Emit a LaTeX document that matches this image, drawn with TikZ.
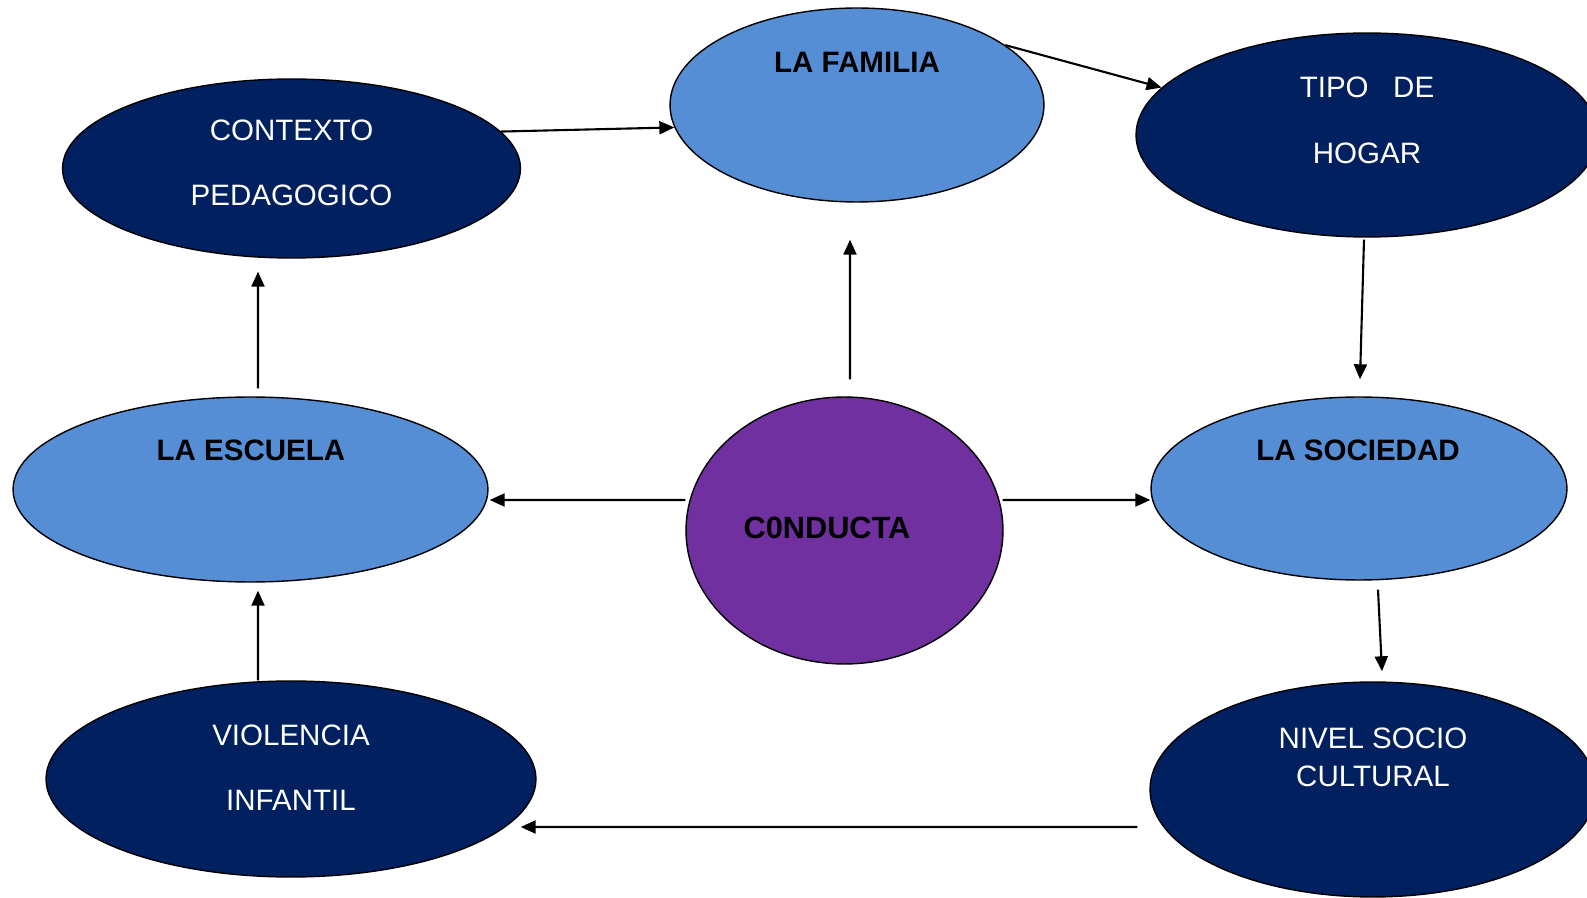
\documentclass[tikz,border=0pt]{standalone}
\usepackage{fontspec}
\setmainfont{Liberation Sans}
\usetikzlibrary{shapes.geometric,arrows.meta}
\definecolor{ovalBlue}{RGB}{85,142,213}
\definecolor{ovalNavy}{RGB}{0,32,96}
\definecolor{ovalPurple}{RGB}{112,48,160}

\begin{document}
\begin{tikzpicture}[x=0.02cm,y=-0.02cm,
  oval/.style={ellipse,draw=black,line width=0.8pt,inner sep=0pt},
  lightoval/.style={oval,fill=ovalBlue},
  darkoval/.style={oval,fill=ovalNavy},
  darktxt/.style={text=white,font=\fontsize{16.8}{#1}\selectfont,align=center},
  boldtxt/.style={font=\fontsize{16.8}{19}\selectfont\bfseries},
  arr/.style={line width=1.2pt,-{Triangle[length=0.3cm,width=0.26cm]}}]
\useasboundingbox (0,0) rectangle (1587,898);

% Ovals
\node[darkoval,minimum width=9.16cm,minimum height=3.58cm] (contexto) at (291.5,168.5) {};
\node[lightoval,minimum width=7.48cm,minimum height=3.88cm] (familia) at (857,105) {};
\node[darkoval,minimum width=9.24cm,minimum height=4.08cm] (tipo) at (1367,135) {};
\node[lightoval,minimum width=9.5cm,minimum height=3.7cm] (escuela) at (250.5,489.5) {};
\node[oval,fill=ovalPurple,minimum width=6.34cm,minimum height=5.34cm] (conducta) at (844.5,530.5) {};
\node[lightoval,minimum width=8.32cm,minimum height=3.66cm] (sociedad) at (1359,488.5) {};
\node[darkoval,minimum width=9.8cm,minimum height=3.92cm] (violencia) at (291,779) {};
\node[darkoval,minimum width=8.92cm,minimum height=4.3cm] (nivel) at (1373,789.5) {};

% Labels
\node[darktxt=36.6pt] (contexto-lbl) at (291.5,162.8) {CONTEXTO\\PEDAGOGICO};
\node[boldtxt] (familia-lbl) at (857,62) {LA FAMILIA};
\node[darktxt=37.4pt] (tipo-lbl) at (1367,120) {TIPO~~~DE\\HOGAR};
\node[boldtxt] (escuela-lbl) at (251,450) {LA ESCUELA};
\node[boldtxt,font=\fontsize{17.5}{19}\selectfont\bfseries] (conducta-lbl) at (827,527.5) {C0NDUCTA};
\node[boldtxt] (sociedad-lbl) at (1358,450) {LA SOCIEDAD};
\node[darktxt=36.8pt] (violencia-lbl) at (291,767.5) {VIOLENCIA\\INFANTIL};
\node[darktxt=22pt] (nivel-lbl) at (1373,757.5) {NIVEL SOCIO\\CULTURAL};

% Arrows
\draw[arr] (contexto.10) -- (familia.187);
\draw[arr] (familia.22) -- (tipo.167);
\draw[arr] ([shift={(-3,2)}]tipo.south) -- ([shift={(1,-17)}]sociedad.north);
\draw[arr] ([shift={(19,9)}]sociedad.south) -- ([shift={(9,-10)}]nivel.north);
\draw[arr] ([shift={(-12,37.5)}]nivel.west) -- ([shift={(-16,48)}]violencia.east);
\draw[arr] ([shift={(-33,0)}]violencia.north) -- ([shift={(7.5,8)}]escuela.south);
\draw[arr] ([shift={(7.5,-8)}]escuela.north) -- ([shift={(-33.5,13)}]contexto.south);
\draw[arr] ([shift={(5.5,-17)}]conducta.north) -- ([shift={(-7,37)}]familia.south);
\draw[arr] ([shift={(0,-30.5)}]conducta.west) -- ([shift={(1,10.5)}]escuela.east);
\draw[arr] ([shift={(-1,-30.5)}]conducta.east) -- ([shift={(0,11.5)}]sociedad.west);
\end{tikzpicture}
\end{document}
